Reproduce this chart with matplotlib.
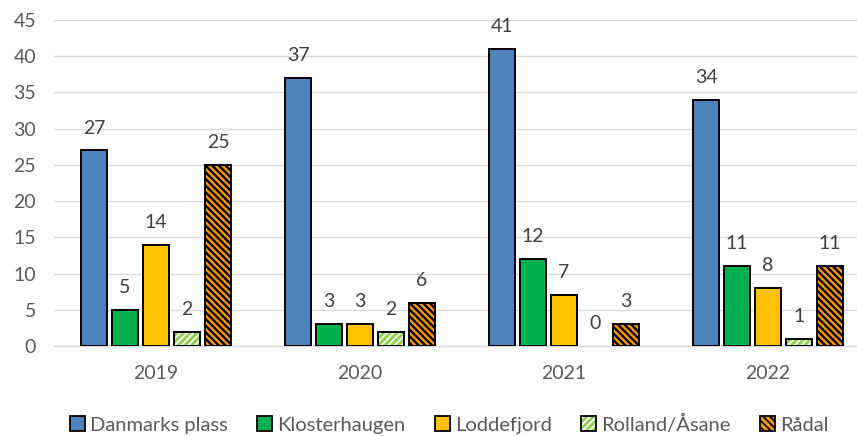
import matplotlib
matplotlib.use("Agg")
import matplotlib.pyplot as plt
import numpy as np
from matplotlib.patches import Patch, Rectangle
from matplotlib.legend_handler import HandlerPatch

years = ["2019", "2020", "2021", "2022"]
series = ["Danmarks plass", "Klosterhaugen", "Loddefjord", "Rolland/Åsane", "Rådal"]
danmarks = [27, 37, 41, 34]
kloster = [5, 3, 12, 11]
lodde = [14, 3, 7, 8]
rolland = [2, 2, 0, 1]
radal = [25, 6, 3, 11]
values = [danmarks, kloster, lodde, rolland, radal]
yticks = [0, 5, 10, 15, 20, 25, 30, 35, 40, 45]

colors = ["#4F81BD", "#00B050", "#FFC000", "#92D050", "#FF9900"]
hatches = [None, None, None, "/////", "\\\\\\\\\\"]
hatch_colors = [None, None, None, "white", "black"]
hatch_lws = [1.0, 1.0, 1.0, 1.2, 1.7]

plt.rcParams['font.family'] = ['Lato', 'DejaVu Sans']

fig = plt.figure(figsize=(8.57, 4.36), dpi=100)
ax = fig.add_axes([54/857, 1 - 346/436, (870 - 54)/857, (346 - 20)/436])

x = np.arange(len(years))
step = 0.152
width = 0.125
handles = []
for i, (name, vals) in enumerate(zip(series, values)):
    pos = x + (i - 2) * step
    vals = np.array(vals, dtype=float)
    lws = [1.4 if v > 0 else 0 for v in vals]
    with plt.rc_context({'hatch.linewidth': hatch_lws[i]}):
        if hatches[i]:
            ax.bar(pos, vals, width, color=colors[i], hatch=hatches[i],
                   edgecolor=hatch_colors[i], linewidth=0, zorder=3)
            ax.bar(pos, vals, width, facecolor='none', edgecolor='black',
                   linewidth=lws, zorder=4)
        else:
            ax.bar(pos, vals, width, color=colors[i], edgecolor='black',
                   linewidth=lws, zorder=3)
        handles.append(Patch(facecolor=colors[i],
                             edgecolor=hatch_colors[i] if hatches[i] else 'black',
                             hatch=hatches[i], linewidth=0))
    for p, v in zip(pos, vals):
        ax.annotate(f"{int(v)}", (p, v), xytext=(0, 10), textcoords='offset points',
                    ha='center', va='bottom', fontsize=14, color='#404040')

ax.set_xlim(-0.5, 3.5)
ax.set_ylim(0, 45)
ax.set_yticks(yticks)
ax.set_xticks(x)
ax.set_xticklabels(years)
ax.grid(axis='y', color='#D9D9D9', linewidth=1.0, zorder=0)
ax.set_axisbelow(True)
for s in ['top', 'right', 'left']:
    ax.spines[s].set_visible(False)
ax.spines['bottom'].set_color('#D9D9D9')
ax.spines['bottom'].set_linewidth(1.0)
ax.tick_params(axis='both', length=0, labelsize=14, colors='#595959')
ax.tick_params(axis='y', pad=13)
ax.tick_params(axis='x', pad=14)


class SquareHandler(HandlerPatch):
    def create_artists(self, legend, orig_handle, xdescent, ydescent, width, height, fontsize, trans):
        s = height
        x0 = width - s - xdescent
        y0 = -ydescent
        with plt.rc_context({'hatch.linewidth': 1.3}):
            r = Rectangle((x0, y0), s, s,
                          facecolor=orig_handle.get_facecolor(), edgecolor=orig_handle.get_edgecolor(),
                          hatch=orig_handle.get_hatch(), linewidth=0, transform=trans)
        r2 = Rectangle((x0, y0), s, s,
                       facecolor='none', edgecolor='black', linewidth=1.3, transform=trans)
        return [r, r2]


leg = fig.legend(handles, series, loc='center', bbox_to_anchor=(0.524, 1 - 424/436),
                 ncol=5, frameon=False, fontsize=14.5, handlelength=0.75, handleheight=0.75,
                 handletextpad=0.25, columnspacing=1.45,
                 handler_map={Patch: SquareHandler()})
for t in leg.get_texts():
    t.set_color('#595959')

fig.savefig("out.png", dpi=100)
